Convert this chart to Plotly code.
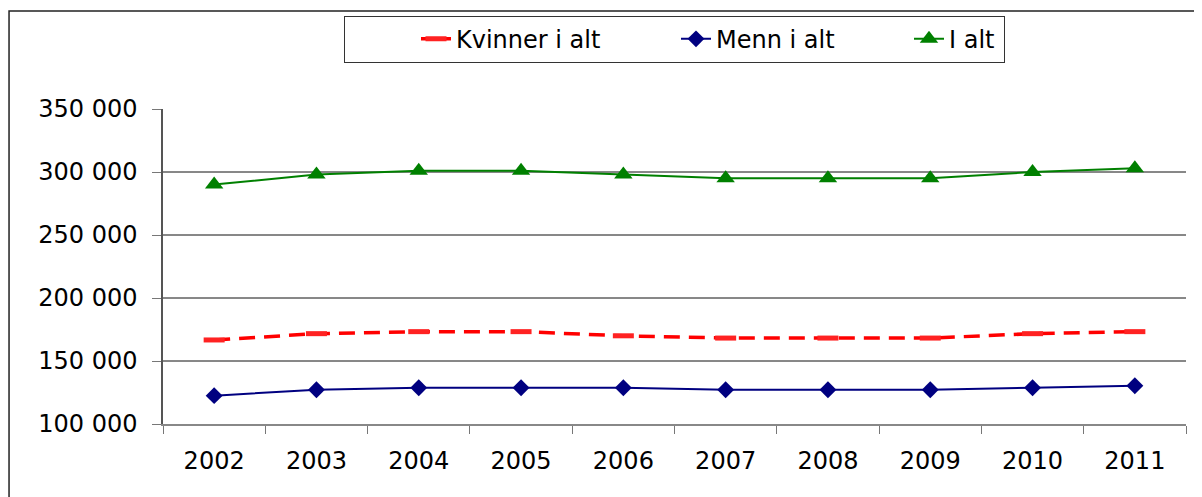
import plotly.graph_objects as go

# ---- data ----
years = ["2002", "2003", "2004", "2005", "2006", "2007", "2008", "2009", "2010", "2011"]
kvinner = [166700, 171700, 173300, 173300, 170000, 168200, 168200, 168200, 171700, 173300]
menn = [122500, 127200, 128800, 128800, 128800, 127200, 127200, 127200, 128800, 130400]
i_alt = [290000, 298000, 301000, 301000, 298000, 295000, 295000, 295000, 300000, 303000]
y_ticks = [100000, 150000, 200000, 250000, 300000, 350000]
grid_values = [150000, 200000, 250000, 300000]
names = ["Kvinner i alt", "Menn i alt", "I alt"]

FONT = "DejaVu Sans"

fig = go.Figure()
fig.add_trace(go.Scatter(
    x=years, y=kvinner, name=names[0], mode="lines+markers",
    line=dict(color="#FF0000", width=3.5, dash="16px,9px"),
    marker=dict(symbol="line-ew", size=15, color="#FF0000",
                line=dict(color="#FF2222", width=5)),
    legendwidth=215,
))
fig.add_trace(go.Scatter(
    x=years, y=menn, name=names[1], mode="lines+markers",
    line=dict(color="#000080", width=2),
    marker=dict(symbol="diamond", size=13, color="#000080"),
    legendwidth=188,
))
fig.add_trace(go.Scatter(
    x=years, y=i_alt, name=names[2], mode="lines+markers",
    line=dict(color="#008000", width=2),
    marker=dict(symbol="triangle-up", size=16, color="#008000"),
    legendwidth=49,
))

for g in grid_values:
    fig.add_shape(type="line", xref="paper", yref="y", x0=0, x1=1, y0=g, y1=g,
                  line=dict(color="#111111", width=1), layer="below")

# outer frame (right and bottom lie outside the canvas)
fig.add_shape(type="rect", xref="paper", yref="paper",
              x0=-0.1505, x1=1.05, y0=-0.3, y1=1.311,
              line=dict(color="#222222", width=1.5), layer="below")

fig.update_layout(
    width=1194, height=489,
    margin=dict(l=155, r=16, t=101, b=73, autoexpand=False),
    paper_bgcolor="white", plot_bgcolor="white",
    separators=", ",
    font=dict(family=FONT, size=24, color="black"),
    showlegend=True,
    legend=dict(
        orientation="h", x=0.1769, y=1.296, xanchor="left", yanchor="top",
        bordercolor="#333333", borderwidth=1, bgcolor="white",
        font=dict(family=FONT, size=24, color="black"),
        title=dict(text="\u00a0" * 8, side="left",
                   font=dict(family=FONT, size=24, color="black")),
        itemclick=False, itemdoubleclick=False,
    ),
    xaxis=dict(
        type="category", range=[-0.5, 9.5], tickson="boundaries",
        ticks="outside", ticklen=8, tickcolor="#777777", tickwidth=1,
        showline=True, linecolor="#888888", linewidth=1.5,
        showgrid=False, zeroline=False,
        tickfont=dict(family=FONT, size=24, color="black"),
        ticklabelstandoff=14,
    ),
    yaxis=dict(
        range=[100000, 350000], tickvals=y_ticks, tickformat=",",
        ticks="outside", ticklen=9, tickcolor="#777777", tickwidth=1,
        showline=True, linecolor="#555555", linewidth=1.5,
        showgrid=False, zeroline=False,
        tickfont=dict(family=FONT, size=24, color="black"),
        ticklabelstandoff=10,
    ),
)

fig.write_html("out.html")
